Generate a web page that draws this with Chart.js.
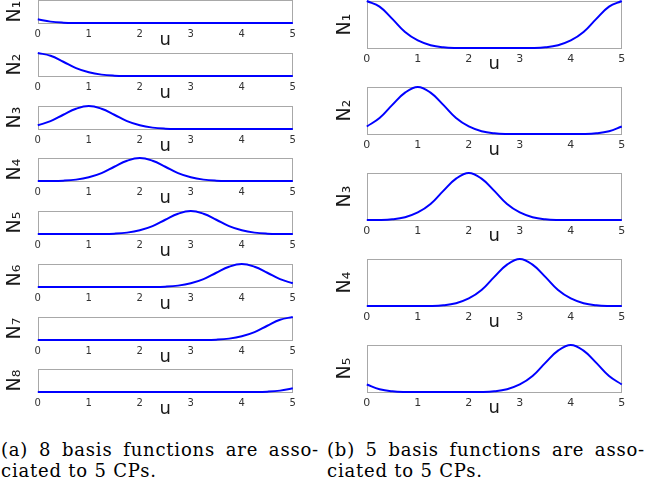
<!DOCTYPE html>
<html>
<head>
<meta charset="utf-8">
<script src="https://cdn.jsdelivr.net/npm/chart.js@4.4.1/dist/chart.umd.min.js"></script>
<style>
  html, body { margin: 0; padding: 0; background: #fff; }
  #fig { position: relative; width: 646px; height: 490px; overflow: hidden; }
  #fig canvas { position: absolute; }
  .cap { position: absolute; font-family: "DejaVu Serif", serif; font-size: 18px; letter-spacing: 0.8px; line-height: 21px; color: #000; white-space: nowrap; }
  .cap .l1 { text-align: justify; text-align-last: justify; }
</style>
</head>
<body>
<div id="fig">
  <div class="cap" style="left:1px; top:439px; width:318px;">
    <div class="l1">(a) 8 basis functions are asso-</div>
    <div>ciated to 5 CPs.</div>
  </div>
  <div class="cap" style="left:327px; top:439px; width:318px;">
    <div class="l1">(b) 5 basis functions are asso-</div>
    <div>ciated to 5 CPs.</div>
  </div>
</div>
<script>
// parametro u (abscisa comun a todas las curvas)
const U = [0, 0.25, 0.5, 0.75, 1, 1.25, 1.5, 1.75, 2, 2.25, 2.5, 2.75, 3, 3.25, 3.5, 3.75, 4, 4.25, 4.5, 4.75, 5];
const xTicks = [0, 1, 2, 3, 4, 5];

// (a) 8 funciones base
const leftLabels = ['N₁', 'N₂', 'N₃', 'N₄', 'N₅', 'N₆', 'N₇', 'N₈'];
const leftN1 = [0.16, 0.06, 0.015, 0, 0, 0, 0, 0, 0, 0, 0, 0, 0, 0, 0, 0, 0, 0, 0, 0, 0];
const leftN2 = [1, 0.88, 0.62, 0.34, 0.16, 0.06, 0.015, 0, 0, 0, 0, 0, 0, 0, 0, 0, 0, 0, 0, 0, 0];
const leftN3 = [0.16, 0.34, 0.62, 0.88, 1, 0.88, 0.62, 0.34, 0.16, 0.06, 0.015, 0, 0, 0, 0, 0, 0, 0, 0, 0, 0];
const leftN4 = [0, 0, 0.015, 0.06, 0.16, 0.34, 0.62, 0.88, 1, 0.88, 0.62, 0.34, 0.16, 0.06, 0.015, 0, 0, 0, 0, 0, 0];
const leftN5 = [0, 0, 0, 0, 0, 0, 0.015, 0.06, 0.16, 0.34, 0.62, 0.88, 1, 0.88, 0.62, 0.34, 0.16, 0.06, 0.015, 0, 0];
const leftN6 = [0, 0, 0, 0, 0, 0, 0, 0, 0, 0, 0.015, 0.06, 0.16, 0.34, 0.62, 0.88, 1, 0.88, 0.62, 0.34, 0.16];
const leftN7 = [0, 0, 0, 0, 0, 0, 0, 0, 0, 0, 0, 0, 0, 0, 0.015, 0.06, 0.16, 0.34, 0.62, 0.88, 1];
const leftN8 = [0, 0, 0, 0, 0, 0, 0, 0, 0, 0, 0, 0, 0, 0, 0, 0, 0, 0, 0.015, 0.06, 0.16];

// (b) 5 funciones base (periodicas)
const rightLabels = ['N₁', 'N₂', 'N₃', 'N₄', 'N₅'];
const rightN1 = [1, 0.88, 0.62, 0.34, 0.16, 0.06, 0.015, 0, 0, 0, 0, 0, 0, 0, 0.015, 0.06, 0.16, 0.34, 0.62, 0.88, 1];
const rightN2 = [0.16, 0.34, 0.62, 0.88, 1, 0.88, 0.62, 0.34, 0.16, 0.06, 0.015, 0, 0, 0, 0, 0, 0, 0, 0.015, 0.06, 0.16];
const rightN3 = [0, 0, 0.015, 0.06, 0.16, 0.34, 0.62, 0.88, 1, 0.88, 0.62, 0.34, 0.16, 0.06, 0.015, 0, 0, 0, 0, 0, 0];
const rightN4 = [0, 0, 0, 0, 0, 0, 0.015, 0.06, 0.16, 0.34, 0.62, 0.88, 1, 0.88, 0.62, 0.34, 0.16, 0.06, 0.015, 0, 0];
const rightN5 = [0.16, 0.06, 0.015, 0, 0, 0, 0, 0, 0, 0, 0.015, 0.06, 0.16, 0.34, 0.62, 0.88, 1, 0.88, 0.62, 0.34, 0.16];

const leftSeries = [leftN1, leftN2, leftN3, leftN4, leftN5, leftN6, leftN7, leftN8];
const rightSeries = [rightN1, rightN2, rightN3, rightN4, rightN5];

const BOX = '#a8a8a8';
const BLUE = '#0000ff';
const TICK_COLOR = '#333333';
const LABEL_COLOR = '#1a1a1a';
const TITLE_SIZE = 18;
const TITLE_LH = TITLE_SIZE * 1.2;

// marco gris alrededor del area de trazado
const framePlugin = {
    id: 'frame',
    beforeDatasetsDraw(chart) {
        const { ctx, chartArea: a } = chart;
        ctx.save();
        ctx.strokeStyle = BOX;
        ctx.lineWidth = 1;
        ctx.strokeRect(Math.round(a.left) + 0.5, Math.round(a.top) + 0.5,
            Math.round(a.right - a.left) - 1, Math.round(a.bottom - a.top));
        ctx.restore();
    }
};

const fig = document.getElementById('fig');

function makePlot(p) {
    const canvasLeft = p.labelX - TITLE_LH / 2;
    const canvasTop = Math.max(0, p.top - 6);
    const padTop = p.top - canvasTop;
    const yWidth = p.left - canvasLeft;
    const width = Math.ceil(p.right - canvasLeft + 10);
    const height = Math.ceil(padTop + p.height + p.xHeight);

    const canvas = document.createElement('canvas');
    canvas.width = width;
    canvas.height = height;
    canvas.style.left = canvasLeft + 'px';
    canvas.style.top = canvasTop + 'px';
    canvas.style.width = width + 'px';
    canvas.style.height = height + 'px';
    fig.insertBefore(canvas, fig.firstChild);

    new Chart(canvas, {
        type: 'line',
        data: {
            datasets: [{
                data: U.map((u, i) => ({ x: u, y: p.values[i] })),
                borderColor: BLUE,
                borderWidth: 2,
                pointRadius: 0,
                fill: false,
                clip: 2,
                tension: 0.4
            }]
        },
        options: {
            responsive: false,
            devicePixelRatio: 1,
            animation: false,
            events: [],
            layout: { padding: { top: padTop, left: 0, right: width - (p.right - canvasLeft), bottom: 0 } },
            plugins: { legend: { display: false }, tooltip: { enabled: false } },
            scales: {
                x: {
                    type: 'linear',
                    min: 0,
                    max: 5,
                    afterBuildTicks: s => { s.ticks = xTicks.map(v => ({ value: v })); },
                    afterFit: s => { s.height = p.xHeight; },
                    grid: { display: false, drawTicks: false },
                    border: { display: false },
                    ticks: {
                        color: TICK_COLOR,
                        padding: p.tickPad,
                        maxRotation: 0,
                        font: { family: "'DejaVu Sans', sans-serif", size: p.tickSize }
                    },
                    title: {
                        display: true,
                        text: 'u',
                        color: LABEL_COLOR,
                        padding: 0,
                        font: { family: "'DejaVu Sans', sans-serif", size: TITLE_SIZE }
                    }
                },
                y: {
                    min: 0,
                    max: 1,
                    afterFit: s => { s.width = yWidth; },
                    grid: { display: false, drawTicks: false },
                    border: { display: false },
                    ticks: { display: false },
                    title: {
                        display: true,
                        text: p.label,
                        color: LABEL_COLOR,
                        padding: 0,
                        font: { family: "'DejaVu Sans', sans-serif", size: 19 }
                    }
                }
            }
        },
        plugins: [framePlugin]
    });
}

leftSeries.forEach((vals, k) => {
    makePlot({
        left: 38, right: 293, top: Math.round(0.3 + 52.7 * k), height: 23,
        labelX: 15, label: leftLabels[k], values: vals,
        tickSize: 10, tickPad: 5.5, xHeight: 28
    });
});

rightSeries.forEach((vals, k) => {
    makePlot({
        left: 367, right: 622, top: Math.round(0.5 + 86.1 * k), height: 47,
        labelX: 345, label: rightLabels[k], values: vals,
        tickSize: 11, tickPad: 4.5, xHeight: 27
    });
});
</script>
</body>
</html>
